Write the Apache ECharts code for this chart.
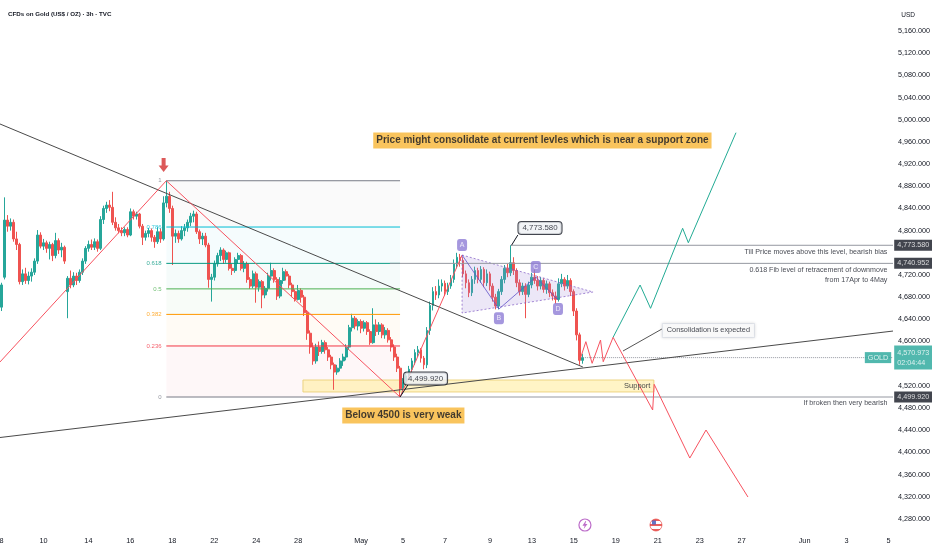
<!DOCTYPE html>
<html>
<head>
<meta charset="utf-8">
<script src="https://cdn.jsdelivr.net/npm/echarts@6/dist/echarts.min.js"></script>
<style>html,body{margin:0;padding:0;background:#fff;overflow:hidden}#chart{width:932px;height:550px}</style>
</head>
<body>
<div id="chart"></div>
<script>
var FONT = "'Liberation Sans',Arial,sans-serif";
var TXT = '#131722';
var UP = '#26a69a', DOWN = '#ef5350', PINK = '#f7525f';

// x slots (one 3h candle each) and date labels at slot index
var SLOTS = 298;
var dateTicks = [[0,'8'],[14,'10'],[29,'14'],[43,'16'],[57,'18'],[71,'22'],[85,'24'],[99,'28'],[120,'May'],[134,'5'],[148,'7'],[163,'9'],[177,'13'],[191,'15'],[205,'19'],[219,'21'],[233,'23'],[247,'27'],[268,'Jun'],[282,'3'],[296,'5']];
var priceTicks = [4280,4320,4360,4400,4440,4480,4520,4600,4640,4680,4720,4800,4840,4880,4920,4960,5000,5040,5080,5120,5160];

// candles: [open, close, low, high]
var candles = [
[4662,4702,4655,4706],[4716,4819,4712,4860],[4819,4808,4798,4828],[4808,4815,4800,4822],[4815,4785,4780,4820],
[4785,4775,4765,4798],[4775,4708,4703,4778],[4708,4722,4702,4730],[4722,4710,4704,4733],[4710,4718,4703,4726],
[4718,4725,4708,4732],[4725,4745,4720,4750],[4745,4792,4740,4801],[4792,4772,4768,4797],[4772,4778,4765,4785],
[4778,4768,4760,4782],[4768,4775,4748,4780],[4775,4755,4745,4778],[4755,4782,4750,4796],[4782,4765,4758,4786],
[4765,4770,4752,4778],[4770,4745,4740,4773],[4690,4714,4642,4718],[4714,4702,4696,4728],[4702,4718,4698,4725],
[4718,4710,4702,4724],[4710,4725,4706,4730],[4725,4745,4720,4750],[4745,4768,4740,4772],[4768,4775,4762,4782],
[4775,4770,4765,4784],[4770,4780,4765,4786],[4780,4768,4762,4784],[4768,4820,4765,4826],[4820,4840,4812,4845],
[4840,4846,4832,4852],[4846,4842,4835,4855],[4842,4815,4810,4870],[4815,4805,4800,4824],[4805,4800,4795,4812],
[4800,4796,4790,4806],[4796,4802,4790,4806],[4802,4792,4788,4806],[4792,4834,4790,4840],[4834,4826,4820,4838],
[4826,4830,4820,4834],[4830,4808,4804,4832],[4808,4788,4774,4812],[4788,4795,4782,4800],[4795,4800,4788,4805],
[4800,4788,4780,4804],[4788,4780,4769,4792],[4780,4798,4776,4806],[4798,4785,4778,4804],[4785,4850,4782,4862],
[4850,4862,4842,4890],[4862,4840,4832,4870],[4840,4790,4738,4845],[4790,4795,4778,4802],[4795,4785,4778,4800],
[4785,4800,4782,4808],[4800,4805,4790,4812],[4805,4815,4798,4820],[4815,4826,4808,4832],[4826,4830,4815,4836],
[4830,4798,4794,4834],[4798,4785,4776,4802],[4785,4790,4774,4796],[4790,4774,4770,4796],[4774,4712,4697,4778],
[4712,4716,4672,4722],[4716,4740,4710,4746],[4740,4755,4735,4760],[4755,4765,4745,4770],[4765,4748,4740,4768],
[4748,4760,4742,4764],[4760,4732,4728,4762],[4732,4728,4720,4740],[4728,4748,4724,4752],[4748,4755,4740,4760],
[4755,4732,4728,4758],[4732,4740,4725,4745],[4740,4712,4706,4744],[4712,4700,4695,4716],[4700,4722,4696,4728],
[4722,4698,4670,4726],[4698,4708,4690,4712],[4708,4684,4660,4711],[4684,4696,4678,4700],[4696,4718,4690,4724],
[4718,4728,4710,4742],[4728,4712,4706,4732],[4712,4682,4675,4716],[4682,4710,4678,4716],[4710,4726,4704,4733],
[4726,4718,4710,4730],[4718,4702,4696,4722],[4702,4690,4680,4706],[4690,4676,4672,4694],[4676,4692,4674,4702],
[4692,4680,4670,4696],[4680,4652,4646,4684],[4652,4615,4603,4656],[4615,4590,4578,4620],[4590,4565,4558,4598],
[4565,4590,4560,4596],[4590,4582,4574,4600],[4582,4598,4578,4603],[4598,4585,4578,4602],[4585,4572,4565,4590],
[4572,4558,4550,4576],[4558,4545,4513,4562],[4545,4552,4540,4558],[4552,4565,4546,4570],[4565,4572,4556,4578],
[4572,4590,4566,4595],[4590,4625,4585,4630],[4625,4642,4618,4650],[4642,4628,4622,4646],[4628,4636,4620,4640],
[4636,4624,4615,4640],[4624,4634,4618,4638],[4634,4618,4612,4637],[4618,4598,4594,4622],[4598,4630,4596,4660],
[4630,4618,4610,4640],[4618,4630,4612,4635],[4630,4612,4606,4633],[4612,4620,4605,4626],[4620,4603,4598,4624],
[4603,4590,4582,4608],[4590,4572,4565,4595],[4572,4552,4545,4578],[4552,4515,4499.92,4556],[4515,4528,4506,4534],
[4528,4538,4520,4545],[4538,4550,4530,4556],[4550,4565,4544,4570],[4565,4580,4558,4586],[4580,4585,4572,4592],
[4585,4570,4562,4588],[4570,4558,4550,4574],[4558,4620,4552,4626],[4620,4665,4612,4672],[4665,4690,4656,4698],
[4690,4684,4675,4700],[4684,4700,4678,4712],[4700,4705,4690,4712],[4705,4690,4682,4710],[4690,4700,4684,4706],
[4700,4712,4695,4720],[4712,4740,4706,4748],[4740,4752,4732,4760],[4752,4746,4735,4758],[4746,4722,4716,4752],
[4722,4706,4696,4728],[4706,4688,4680,4712],[4688,4712,4682,4718],[4712,4728,4704,4735],[4728,4712,4705,4733],
[4712,4730,4706,4736],[4730,4706,4698,4734],[4706,4722,4700,4730],[4722,4700,4692,4726],[4700,4680,4672,4705],
[4680,4664,4658,4686],[4664,4690,4658,4695],[4690,4712,4684,4718],[4712,4732,4705,4738],[4732,4724,4716,4740],
[4724,4742,4718,4773.58],[4742,4728,4720,4752],[4728,4706,4698,4732],[4706,4690,4683,4712],[4690,4700,4684,4706],
[4700,4685,4642,4705],[4685,4702,4680,4708],[4702,4716,4696,4724],[4716,4710,4704,4730],[4710,4700,4692,4718],
[4700,4710,4694,4716],[4710,4694,4688,4714],[4694,4704,4686,4710],[4704,4688,4680,4708],[4688,4682,4674,4694],
[4682,4676,4668,4690],[4676,4704,4672,4714],[4704,4712,4698,4722],[4712,4700,4692,4716],[4700,4710,4695,4720],
[4710,4690,4682,4714],[4690,4655,4646,4694],[4655,4612,4602,4660],[4612,4566,4558,4616],[4566,4570.973,4560,4578]
];

var lastPrice = 4570.973;
var countdown = '02:04:44';
var swingHighMark = 4773.58;
var fibValueMark = 4740.952;
var swingLowMark = 4499.92;

// fibonacci retracement 17 Apr high -> 4 May low
var fibHigh = 4889.94, fibLow = 4499.92;
var fibLevels = [1, 0.786, 0.618, 0.5, 0.382, 0.236, 0];
var fibColors = ['#787b86', '#00bcd4', '#089981', '#4caf50', '#ff9800', '#f23645', '#787b86'];
var fibSpan = [55, 133];

// drawings: [slot, price]
var downTrend = [[-0.5, 4992.3], [194, 4554.1]];
var upTrend = [[-0.5, 4426.9], [297.5, 4618.9]];
var swingUp = [[-0.5, 4563.1], [55, 4889.94]];
var swingDown = [[55, 4889.94], [133, 4499.92]];
var swingBack = [[133, 4499.92], [153.7, 4756]];
var abcd = [[153.7, 4756], [166, 4658.6], [178.3, 4716.3], [185.7, 4674.9]];
var abcdNames = ['A', 'B', 'C', 'D'];
var abcdTags = [[153.7, 4774], [166, 4642], [178.3, 4734.4], [185.7, 4658.6]];
var triangle = [[153.7, 4756], [197.4, 4689.3], [153.7, 4651.4]];
var bearPath = [[193.3,4571.5],[195,4599.7],[197.1,4560.7],[199.9,4602.7],[200.8,4563.6],[204.1,4607.6],[217.3,4476.5],[217.8,4522.8],[229.7,4389.9],[235.1,4440.4],[249.1,4319.6]];
var bullPath = [[204.1,4607.6],[213.1,4701.9],[216.6,4659.9],[227.3,4804.2],[229.2,4778.2],[245.1,4976.6]];
var supportZone = [100.6, 217.7, 4530.6, 4509];

var notes = {
  top: 'Price might consolidate at current levles which is near a support zone',
  weak: 'Below 4500 is very weak',
  bias: 'Till Price moves above this level, bearish bias',
  fib: '0.618 Fib level of retracement of downmove\nfrom 17Apr to 4May',
  broken: 'If broken then very bearish',
  consol: 'Consolidation is expected',
  support: 'Support'
};

var Y_MIN = 4263.7, Y_MAX = 5215.9;

function fmtPrice(v) {
  return Number(v).toLocaleString('en-US', {minimumFractionDigits: 3, maximumFractionDigits: 3});
}

var categories = [];
for (var i = 0; i < SLOTS; i++) categories.push(String(i));
var labelMap = {};
dateTicks.forEach(function (t) { labelMap[t[0]] = t[1]; });

function seg(pts, color, opt) {
  opt = opt || {};
  return {
    type: 'line', xAxisIndex: 1, yAxisIndex: 0, data: pts, symbol: 'none', silent: true,
    z: opt.z || 4, animation: false,
    lineStyle: {color: color, width: opt.width || 1, type: opt.type || 'solid', opacity: opt.opacity == null ? 1 : opt.opacity}
  };
}

function fibPrice(l) { return fibLow + l * (fibHigh - fibLow); }

var series = [];

// fib background bands
var bands = [];
for (var k = 0; k < fibLevels.length - 1; k++) {
  bands.push([fibSpan[0], fibSpan[1], fibPrice(fibLevels[k]), fibPrice(fibLevels[k + 1])]);
}
function rectItem(params, api, style) {
  var a = api.coord([api.value(0), api.value(2)]);
  var b = api.coord([api.value(1), api.value(3)]);
  return {type: 'rect', shape: {x: a[0], y: a[1], width: b[0] - a[0], height: b[1] - a[1]}, style: style};
}
series.push({
  type: 'custom', xAxisIndex: 1, yAxisIndex: 0, silent: true, z: 1, data: bands,
  encode: {x: [0, 1], y: [2, 3]},
  renderItem: function (params, api) {
    return rectItem(params, api, {fill: fibColors[params.dataIndex], opacity: 0.04});
  }
});
// support zone
series.push({
  type: 'custom', xAxisIndex: 1, yAxisIndex: 0, silent: true, z: 1, data: [supportZone],
  encode: {x: [0, 1], y: [2, 3]},
  renderItem: function (params, api) {
    return rectItem(params, api, {fill: 'rgba(255,236,160,0.6)', stroke: 'rgba(235,208,120,0.9)', lineWidth: 1});
  }
});

// candles
series.push({
  type: 'candlestick', xAxisIndex: 0, yAxisIndex: 0, data: candles, barWidth: 2.4, z: 2, silent: true,
  itemStyle: {color: UP, color0: DOWN, borderColor: UP, borderColor0: DOWN, borderWidth: 1}
});

// fib levels
fibLevels.forEach(function (l, k) {
  var p = fibPrice(l);
  series.push(seg([[fibSpan[0], p], [fibSpan[1], p]], fibColors[k], {z: 3}));
});

// horizontal rays to the price scale
series.push(seg([[170, swingHighMark], [297.5, swingHighMark]], '#9598a1', {z: 3}));
series.push(seg([[129.6, fibValueMark], [297.5, fibValueMark]], '#9598a1', {z: 3}));
series.push(seg([[133, swingLowMark], [297.5, swingLowMark]], '#9598a1', {z: 3}));
series.push(seg([[194, lastPrice], [297.5, lastPrice]], '#9598a1', {z: 3, type: 'dotted'}));

// trend lines
series.push(seg(downTrend, '#4a4a4a'));
series.push(seg(upTrend, '#4a4a4a'));
series.push(seg(swingUp, PINK));
series.push(seg(swingDown, PINK));
series.push(seg(swingBack, PINK));

// triangle + ABCD
series.push({
  type: 'custom', xAxisIndex: 1, yAxisIndex: 0, silent: true, z: 3, data: [triangle[0]],
  renderItem: function (params, api) {
    var pts = triangle.map(function (p) { return api.coord(p); });
    return {type: 'polygon', shape: {points: pts},
      style: {fill: 'rgba(160,135,215,0.2)', stroke: 'rgba(126,87,194,0.7)', lineWidth: 1, lineDash: [2, 2]}};
  }
});
series.push(seg(abcd, 'rgba(98,82,200,0.8)'));

// projections
series.push(seg(bearPath, PINK));
series.push(seg(bullPath, '#22ab94'));

// callout pointers
series.push(seg([[170.2, swingHighMark], [172.3, 4792]], TXT));
series.push(seg([[133, swingLowMark], [135.6, 4521.6]], TXT));
series.push(seg([[220.4, 4622.6], [207.4, 4582.9]], '#555'));

// text notes
function note(pt, text, lab) {
  lab.formatter = text;
  return {value: pt, label: lab};
}
var calloutBox = {position: 'inside', backgroundColor: '#eef0f4', borderColor: TXT, borderWidth: 1, borderRadius: 3, padding: [2, 4], fontSize: 7.9};
var orangeBox = {position: 'inside', backgroundColor: '#f8b534', padding: [3, 3], fontSize: 10, fontWeight: 'bold'};
var rightText = {position: 'left', distance: 0, fontSize: 7.1, lineHeight: 10, align: 'right'};
var axisBox = {position: 'right', distance: 1, backgroundColor: TXT, color: '#fff', padding: [2, 3], fontSize: 7.2};

var noteData = [
  note([180.5, 4962.5], notes.top, Object.assign({}, orangeBox)),
  note([134.1, 4466.6], notes.weak, Object.assign({}, orangeBox)),
  note([179.7, 4804.7], fmtPrice(swingHighMark), Object.assign({}, calloutBox)),
  note([141.5, 4533.3], fmtPrice(swingLowMark), Object.assign({}, calloutBox)),
  note([235.9, 4619.9], notes.consol, {position: 'inside', backgroundColor: '#fff', borderColor: '#e0e3eb', borderWidth: 1,
    shadowBlur: 3, shadowColor: 'rgba(0,0,0,0.15)', padding: [3, 4], fontSize: 7.3}),
  note([216.7, 4520.7], notes.support, Object.assign({}, rightText, {fontSize: 7.5})),
  note([295.8, 4761.4], notes.bias, Object.assign({}, rightText)),
  note([295.8, 4720.0], notes.fib, Object.assign({}, rightText)),
  note([295.8, 4489.1], notes.broken, Object.assign({}, rightText)),
  note([297.4, swingHighMark], fmtPrice(swingHighMark), Object.assign({}, axisBox)),
  note([297.4, fibValueMark], fmtPrice(fibValueMark), Object.assign({}, axisBox)),
  note([297.4, swingLowMark], fmtPrice(swingLowMark), Object.assign({}, axisBox)),
  note([297.4, lastPrice], fmtPrice(lastPrice) + '\n' + countdown, Object.assign({}, axisBox, {backgroundColor: UP, lineHeight: 10, padding: [2, 3]})),
  note([297.4, lastPrice], 'GOLD', {position: 'left', distance: 1, backgroundColor: UP, color: '#fff', padding: [2, 3], fontSize: 7.2})
];
fibLevels.forEach(function (l, k) {
  noteData.push(note([53.6, fibPrice(l)], String(l), {position: 'left', distance: 0, color: fibColors[k], fontSize: 6}));
});
series.push({
  type: 'scatter', xAxisIndex: 1, yAxisIndex: 0, symbolSize: 1, silent: true, z: 10, animation: false,
  itemStyle: {color: 'rgba(0,0,0,0)'},
  label: {show: true, color: TXT, fontFamily: FONT},
  data: noteData
});

// ABCD tags, arrow, event icons
var stripes = {type: 'linear', x: 0, y: 0, x2: 0, y2: 1, colorStops: [
  {offset: 0, color: '#e53935'}, {offset: 0.2, color: '#e53935'}, {offset: 0.2, color: '#fff'}, {offset: 0.4, color: '#fff'},
  {offset: 0.4, color: '#e53935'}, {offset: 0.6, color: '#e53935'}, {offset: 0.6, color: '#fff'}, {offset: 0.8, color: '#fff'},
  {offset: 0.8, color: '#e53935'}, {offset: 1, color: '#e53935'}]};
var marks = abcdTags.map(function (p, k) {
  return {value: p, symbol: 'roundRect', symbolSize: [10, 12], itemStyle: {color: '#8f7dd6'},
    label: {show: true, position: 'inside', formatter: abcdNames[k], color: '#fff', fontSize: 7, fontFamily: FONT}};
});
marks.push({value: [54.1, 4918.3], symbol: 'path://M3,0L7,0L7,7L10,7L5,13L0,7L3,7Z', symbolSize: [10, 14], itemStyle: {color: '#d32f2f'}});
marks.push({value: [194.7, 4269.1], symbol: 'circle', symbolSize: 12, itemStyle: {color: '#fff', borderColor: '#ab47bc', borderWidth: 1.2}});
marks.push({value: [194.7, 4269.1], symbol: 'path://M6,0L1,7L4.5,7L3,12L9,4.5L5.5,4.5L7,0Z', symbolSize: [5, 8], itemStyle: {color: '#ab47bc'}});
marks.push({value: [218.4, 4269.1], symbol: 'circle', symbolSize: 12, itemStyle: {color: stripes, borderColor: '#e53935', borderWidth: 0.8}});
marks.push({value: [218.4, 4269.1], symbol: 'rect', symbolSize: [4, 4], symbolOffset: [-2, -2.5], itemStyle: {color: '#3f51b5'}});
series.push({
  type: 'scatter', xAxisIndex: 1, yAxisIndex: 0, silent: true, z: 9, animation: false, data: marks
});

var chart = echarts.init(document.getElementById('chart'));
chart.setOption({
  animation: false,
  backgroundColor: '#fff',
  title: [
    {text: 'CFDs on Gold (US$ / OZ) · 3h · TVC', left: 3, top: 6,
      textStyle: {fontFamily: FONT, fontSize: 6.2, fontWeight: 'bold', color: TXT}},
    {text: 'USD', right: 12, top: 7, textStyle: {fontFamily: FONT, fontSize: 6.5, fontWeight: 'normal', color: TXT}}
  ],
  grid: {left: 0, right: 39, top: 0, bottom: 22, containLabel: false, outerBoundsMode: 'none'},
  xAxis: [
    {type: 'category', data: categories, boundaryGap: true,
      axisLine: {show: false}, axisTick: {show: false}, splitLine: {show: false},
      axisLabel: {
        interval: function (index) { return labelMap[index] !== undefined; },
        formatter: function (value, index) { return labelMap[index] || ''; },
        color: TXT, fontSize: 7.3, fontFamily: FONT, margin: 9
      }},
    {type: 'value', min: -0.5, max: SLOTS - 0.5, show: false}
  ],
  yAxis: [{
    type: 'value', position: 'right', min: Y_MIN, max: Y_MAX,
    splitLine: {show: false}, axisLine: {show: false}, axisTick: {show: false},
    axisLabel: {customValues: priceTicks, formatter: fmtPrice, color: TXT, fontSize: 7.2, fontFamily: FONT, margin: 5}
  }],
  series: series
});
</script>
</body>
</html>
